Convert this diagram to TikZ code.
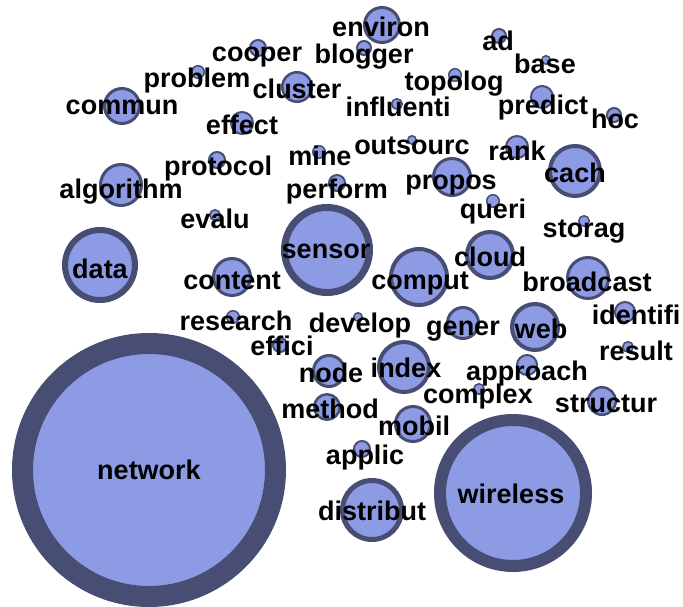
\documentclass[tikz,border=0pt]{standalone}
\usepackage{fontspec}
\setmainfont{Liberation Sans}
\usepackage{tikz}

\definecolor{face}{RGB}{141,155,228}
\definecolor{edge}{RGB}{72,77,115}
\tikzset{
  bubble/.style 2 args={circle, draw=edge, fill=face, inner sep=0pt,
    line width=#2pt, minimum size={2*#1pt-#2pt}},
  word/.style={anchor=mid, yshift=-6pt, inner sep=0pt, font=\bfseries\fontsize{27}{27}\selectfont}
}

\begin{document}
\begin{tikzpicture}[x=1pt, y=-1pt]
      \useasboundingbox (0,0) rectangle (683,607);
      % bubbles, biggest first
      \node[bubble={137}{21}] (network) at (149,470) {};
      \node[bubble={79}{12}] (wireless) at (513,493) {};
      \node[bubble={46}{7}] (sensor) at (327,250) {};
      \node[bubble={38}{6}] (data) at (100,265) {};
      \node[bubble={32}{5}] (distribut) at (372,510) {};
      \node[bubble={30}{4}] (comput) at (419,277) {};
      \node[bubble={27}{4}] (cach) at (575,171) {};
      \node[bubble={27}{4}] (index) at (404,367) {};
      \node[bubble={25}{4}] (cloud) at (490,255) {};
      \node[bubble={25}{4}] (web) at (535,327) {};
      \node[bubble={22}{3}] (algorithm) at (121,185) {};
      \node[bubble={22}{3}] (broadcast) at (588,278) {};
      \node[bubble={20}{3}] (content) at (232,277) {};
      \node[bubble={20}{3}] (propos) at (452,177) {};
      \node[bubble={19}{3}] (environ) at (382,25) {};
      \node[bubble={19}{3}] (commun) at (122,106) {};
      \node[bubble={19}{3}] (mobil) at (413,424) {};
      \node[bubble={17}{3}] (gener) at (463,323) {};
      \node[bubble={17}{3}] (node) at (329,371) {};
      \node[bubble={16}{2.5}] (cluster) at (297,87) {};
      \node[bubble={15}{2.5}] (structur) at (602,401) {};
      \node[bubble={14}{2.5}] (method) at (327,407) {};
      \node[bubble={12}{2}] (effect) at (242,123) {};
      \node[bubble={12}{2}] (predict) at (542,97) {};
      \node[bubble={12}{2}] (rank) at (517,147) {};
      \node[bubble={11}{2}] (identifi) at (625,312) {};
      \node[bubble={11}{2}] (approach) at (527,365) {};
      \node[bubble={9}{2}] (cooper) at (258,48) {};
      \node[bubble={9}{2}] (protocol) at (217,160) {};
      \node[bubble={9}{2}] (perform) at (337,183) {};
      \node[bubble={9}{2}] (applic) at (362,449) {};
      \node[bubble={8}{2}] (blogger) at (364,48) {};
      \node[bubble={8}{2}] (ad) at (499,36) {};
      \node[bubble={8}{2}] (hoc) at (614,115) {};
      \node[bubble={8}{2}] (effici) at (280,345) {};
      \node[bubble={7}{1.5}] (problem) at (198,72) {};
      \node[bubble={7}{1.5}] (mine) at (319,152) {};
      \node[bubble={7}{1.5}] (topolog) at (455,75) {};
      \node[bubble={7}{1.5}] (queri) at (493,201) {};
      \node[bubble={7}{1.5}] (research) at (233,317) {};
      \node[bubble={6}{1.5}] (evalu) at (215,215) {};
      \node[bubble={6}{1.5}] (influenti) at (397,104) {};
      \node[bubble={6}{1.5}] (storag) at (584,221) {};
      \node[bubble={6}{1.5}] (result) at (628,347) {};
      \node[bubble={6}{1.5}] (complex) at (479,389) {};
      \node[bubble={5}{1.5}] (base) at (546,60) {};
      \node[bubble={5}{1.5}] (outsourc) at (412,140) {};
      \node[bubble={5}{1.5}] (develop) at (358,317) {};
      % words on top
      \node[word] (network-lbl) at (149,471) {network};
      \node[word] (wireless-lbl) at (511,495) {wireless};
      \node[word] (sensor-lbl) at (326,250) {sensor};
      \node[word] (data-lbl) at (100,270) {data};
      \node[word] (distribut-lbl) at (372,512) {distribut};
      \node[word] (comput-lbl) at (420,281) {comput};
      \node[word] (cach-lbl) at (575,174) {cach};
      \node[word] (index-lbl) at (406,369) {index};
      \node[word] (cloud-lbl) at (490,258) {cloud};
      \node[word] (web-lbl) at (541,330) {web};
      \node[word] (algorithm-lbl) at (121,190) {algorithm};
      \node[word] (broadcast-lbl) at (587,283) {broadcast};
      \node[word] (content-lbl) at (232,281) {content};
      \node[word] (propos-lbl) at (451,181) {propos};
      \node[word] (environ-lbl) at (381,28) {environ};
      \node[word] (commun-lbl) at (122,106) {commun};
      \node[word] (mobil-lbl) at (414,427) {mobil};
      \node[word] (gener-lbl) at (463,327) {gener};
      \node[word] (node-lbl) at (331,374) {node};
      \node[word] (cluster-lbl) at (297,90) {cluster};
      \node[word] (structur-lbl) at (606,404) {structur};
      \node[word] (method-lbl) at (330,410) {method};
      \node[word] (effect-lbl) at (242,126) {effect};
      \node[word] (predict-lbl) at (543,106) {predict};
      \node[word] (rank-lbl) at (517,152) {rank};
      \node[word] (identifi-lbl) at (636,316) {identifi};
      \node[word] (approach-lbl) at (527,372) {approach};
      \node[word] (cooper-lbl) at (257,53) {cooper};
      \node[word] (protocol-lbl) at (218,167) {protocol};
      \node[word] (perform-lbl) at (337,190) {perform};
      \node[word] (applic-lbl) at (365,456) {applic};
      \node[word] (blogger-lbl) at (364,55) {blogger};
      \node[word] (ad-lbl) at (498,42) {ad};
      \node[word] (hoc-lbl) at (615,120) {hoc};
      \node[word] (effici-lbl) at (282,347) {effici};
      \node[word] (problem-lbl) at (197,79) {problem};
      \node[word] (mine-lbl) at (320,157) {mine};
      \node[word] (topolog-lbl) at (454,82) {topolog};
      \node[word] (queri-lbl) at (493,210) {queri};
      \node[word] (research-lbl) at (236,322) {research};
      \node[word] (evalu-lbl) at (215,220) {evalu};
      \node[word] (influenti-lbl) at (398,108) {influenti};
      \node[word] (storag-lbl) at (584,229) {storag};
      \node[word] (result-lbl) at (636,352) {result};
      \node[word] (complex-lbl) at (478,395) {complex};
      \node[word] (base-lbl) at (545,65) {base};
      \node[word] (outsourc-lbl) at (412,146) {outsourc};
      \node[word] (develop-lbl) at (360,324) {develop};
\end{tikzpicture}
\end{document}
